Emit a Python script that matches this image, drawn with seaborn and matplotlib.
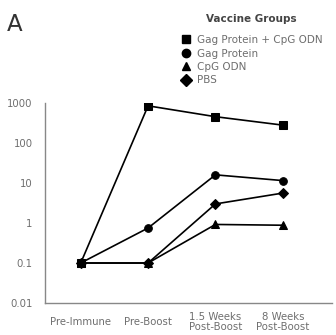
import pandas as pd
import numpy as np
import matplotlib.pyplot as plt
import seaborn as sns
from matplotlib.lines import Line2D

timepoints = ['Pre-Immune', 'Pre-Boost', '1.5 Weeks\nPost-Boost', '8 Weeks\nPost-Boost']
groups = ['Gag Protein + CpG ODN', 'Gag Protein', 'CpG ODN', 'PBS']
gag_cpg = [0.1, 850, 455, 280]
gag = [0.1, 0.75, 16, 11.5]
cpg = [0.1, 0.1, 0.92, 0.88]
pbs = [0.1, 0.1, 3.0, 5.6]
group_markers = {'Gag Protein + CpG ODN': 's', 'Gag Protein': 'o', 'CpG ODN': '^', 'PBS': 'D'}

rows = []
for g, vals in zip(groups, [gag_cpg, gag, cpg, pbs]):
    for i, v in enumerate(vals):
        rows.append({'time': i, 'titer': v, 'group': g})
df = pd.DataFrame(rows)

sns.set_style("white")
grey = '#6e6e6e'

fig = plt.figure(figsize=(3.36, 3.35), dpi=100)
ax = fig.add_axes([0.134, 0.0955, 0.854, 0.597])

sns.lineplot(data=df, x='time', y='titer', style='group', markers=group_markers,
             dashes=False, color='black', linewidth=1.2, markersize=5.5,
             markeredgecolor='black', legend=False, ax=ax, sort=False)

ax.set_yscale('log')
ax.set_ylim(0.01, 1000)
ax.set_xlim(-0.53, 3.73)
ax.set_yticks([0.01, 0.1, 1, 10, 100, 1000])
ax.set_yticklabels(['0.01', '0.1', '1', '10', '100', '1000'])
ax.minorticks_off()
ax.set_xticks(range(len(timepoints)))
ax.set_xticklabels(timepoints, linespacing=1.0, va='center')
ax.set_xlabel('')
ax.set_ylabel('')
ax.tick_params(axis='both', labelsize=7.3, colors=grey, length=3, width=0.8,
               direction='out')
ax.tick_params(axis='y', pad=6)
ax.tick_params(axis='x', pad=11)
for s in ['top', 'right']:
    ax.spines[s].set_visible(False)
for s in ['left', 'bottom']:
    ax.spines[s].set_color('#888888')
    ax.spines[s].set_linewidth(1.0)

fig.text(0.02, 0.96, 'A', fontsize=16.5, color='#333333', va='top', ha='left')

handles = [Line2D([], [], color='black', marker=group_markers[g], linestyle='none',
                  markersize=6) for g in groups]
leg = fig.legend(handles, groups, title='Vaccine Groups', loc='upper left',
                 bbox_to_anchor=(0.517, 0.98), frameon=False, fontsize=7.5,
                 title_fontsize=7.5, handletextpad=0.5, labelspacing=0.33,
                 borderpad=0.2, handlelength=1.0, labelcolor=grey)
leg.get_title().set_fontweight('bold')
leg.get_title().set_color('#444444')
leg._legend_box.sep = 8

fig.savefig('out.png', dpi=100)
